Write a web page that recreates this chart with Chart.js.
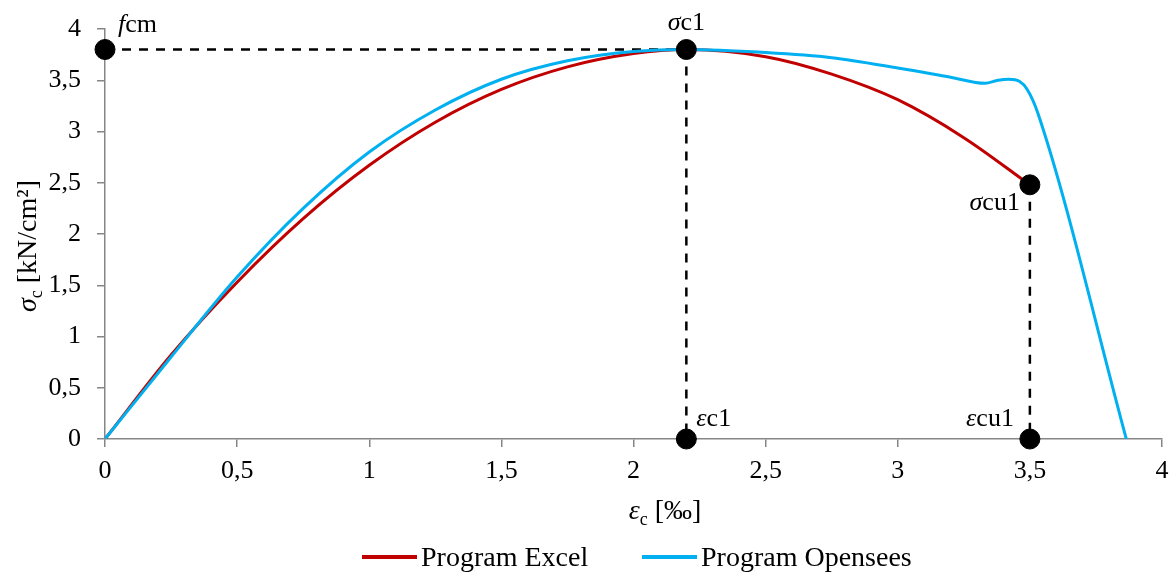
<!DOCTYPE html>
<html>
<head>
<meta charset="utf-8">
<script src="https://cdn.jsdelivr.net/npm/chart.js@4.4.1/dist/chart.umd.min.js"></script>
<style>
  html, body { margin: 0; padding: 0; background: #fff; }
  #wrap { width: 1173px; height: 573px; }
</style>
</head>
<body>
<div id="wrap"><canvas id="stressChart"></canvas></div>
<script>
// --- data ---
const strainExcel = [0, 0.25, 0.5, 0.75, 1, 1.25, 1.5, 1.75, 2, 2.2, 2.5, 2.75, 3, 3.25, 3.5];
const stressExcel = [0, 0.82, 1.53, 2.15, 2.67, 3.09, 3.41, 3.63, 3.76, 3.80, 3.73, 3.56, 3.31, 2.94, 2.48];

const strainOpensees = [0, 0.25, 0.5, 0.75, 1, 1.25, 1.5, 1.75, 2, 2.2, 2.5, 2.75, 3, 3.2, 3.33, 3.38, 3.42, 3.46, 3.49, 3.53, 3.865];
const stressOpensees = [0, 0.8, 1.58, 2.25, 2.80, 3.21, 3.51, 3.69, 3.78, 3.80, 3.77, 3.72, 3.62, 3.53, 3.47, 3.50, 3.51, 3.49, 3.41, 3.18, 0];

// characteristic points: fcm, sigma_c1, eps_c1, sigma_cu1, eps_cu1
const keyStrain = [0, 2.2, 2.2, 3.5, 3.5];
const keyStress = [3.8, 3.8, 0, 2.48, 0];

// dashed guides
const guideFcm = [[0, 3.8], [2.2, 3.8]];
const guideC1 = [[2.2, 3.8], [2.2, 0]];
const guideCu1 = [[3.5, 2.48], [3.5, 0]];

const seriesNames = ["Program Excel", "Program Opensees"];
const seriesColors = ["#C00000", "#00B0F0"];

const FONT = '"Liberation Serif", "Times New Roman", serif';
const FS = 26;      // ticks and point labels
const FS_BIG = 28;  // axis titles and legend

function pts(xs, ys) { return xs.map((x, i) => ({ x: x, y: ys[i] })); }
function pairs(arr) { return arr.map(p => ({ x: p[0], y: p[1] })); }

// draw text pieces (italic / subscript) in one run
function drawRich(ctx, parts, x, y, align, size) {
  const fontOf = p => (p.i ? "italic " : "") + (p.sub ? Math.round(size * 0.65) : size) + "px " + FONT;
  let w = 0;
  parts.forEach(p => { ctx.font = fontOf(p); w += ctx.measureText(p.t).width; });
  let cx = align === "center" ? x - w / 2 : align === "right" ? x - w : x;
  ctx.textAlign = "left";
  ctx.textBaseline = "alphabetic";
  parts.forEach(p => {
    ctx.font = fontOf(p);
    ctx.fillText(p.t, cx, y + (p.sub ? size * 0.22 : 0));
    cx += ctx.measureText(p.t).width;
  });
}

const extras = {
  id: "extras",
  afterDraw(chart) {
    const ctx = chart.ctx;
    const xs = chart.scales.x, ys = chart.scales.y;
    ctx.save();
    ctx.fillStyle = "#000";

    // point labels
    const px = i => xs.getPixelForValue(keyStrain[i]);
    const py = i => ys.getPixelForValue(keyStress[i]);
    drawRich(ctx, [{ t: "f", i: true }, { t: "cm" }], px(0) + 13, py(0) - 18, "left", FS);
    drawRich(ctx, [{ t: "σ", i: true }, { t: "c1" }], px(1), py(1) - 20, "center", FS);
    drawRich(ctx, [{ t: "ε", i: true }, { t: "c1" }], px(2) + 10, py(2) - 13, "left", FS);
    drawRich(ctx, [{ t: "σ", i: true }, { t: "cu1" }], px(3) - 10, py(3) + 25, "right", FS);
    drawRich(ctx, [{ t: "ε", i: true }, { t: "cu1" }], px(4) - 16, py(4) - 13, "right", FS);

    // axis titles
    drawRich(ctx, [{ t: "ε", i: true }, { t: "c", sub: true }, { t: " [‰]" }], 665, 519, "center", FS_BIG);
    ctx.save();
    ctx.translate(36, 246);
    ctx.rotate(-Math.PI / 2);
    drawRich(ctx, [{ t: "σ", i: true }, { t: "c", sub: true }, { t: " [kN/cm²]" }], 0, 0, "center", FS_BIG);
    ctx.restore();

    // legend
    const lx = [362, 642];
    seriesNames.forEach((name, i) => {
      ctx.strokeStyle = seriesColors[i];
      ctx.lineWidth = 4;
      ctx.beginPath();
      ctx.moveTo(lx[i], 557);
      ctx.lineTo(lx[i] + 55, 557);
      ctx.stroke();
      drawRich(ctx, [{ t: name }], lx[i] + 59, 566, "left", FS_BIG);
    });
    ctx.restore();
  }
};

const dashed = (data) => ({
  data: data,
  showLine: true,
  borderColor: "#000",
  borderWidth: 2.5,
  borderDash: [9, 8],
  pointRadius: 0,
  order: 3
});

new Chart(document.getElementById("stressChart"), {
  type: "scatter",
  data: {
    datasets: [
      {
        label: "points",
        data: pts(keyStrain, keyStress),
        pointRadius: 10,
        pointHoverRadius: 10,
        backgroundColor: "#000",
        borderColor: "#000",
        clip: false,
        order: 0
      },
      {
        label: seriesNames[0],
        data: pts(strainExcel, stressExcel),
        showLine: true,
        borderColor: seriesColors[0],
        borderWidth: 3,
        pointRadius: 0,
        cubicInterpolationMode: "monotone",
        order: 2
      },
      {
        label: seriesNames[1],
        data: pts(strainOpensees, stressOpensees),
        showLine: true,
        borderColor: seriesColors[1],
        borderWidth: 3,
        pointRadius: 0,
        cubicInterpolationMode: "monotone",
        order: 1
      },
      dashed(pairs(guideFcm)),
      dashed(pairs(guideC1)),
      dashed(pairs(guideCu1))
    ]
  },
  options: {
    responsive: true,
    maintainAspectRatio: false,
    animation: false,
    layout: { padding: { top: 29, right: 0, left: 0, bottom: 0 } },
    plugins: { legend: { display: false }, tooltip: { enabled: false } },
    scales: {
      x: {
        type: "linear",
        min: 0,
        max: 4,
        afterFit: s => { s.height = 134; s.paddingLeft = 0; s.paddingRight = 0; },
        ticks: {
          stepSize: 0.5,
          padding: 9,
          color: "#000",
          font: { family: FONT, size: FS },
          callback: v => String(v).replace(".", ",")
        },
        grid: { drawOnChartArea: false, drawTicks: true, tickLength: 8, color: "#868686", lineWidth: 1.5 },
        border: { color: "#868686", width: 1.5 }
      },
      y: {
        type: "linear",
        min: 0,
        max: 4,
        afterFit: s => { s.width = 105; s.paddingTop = 0; s.paddingBottom = 0; },
        ticks: {
          stepSize: 0.5,
          padding: 16,
          color: "#000",
          font: { family: FONT, size: FS },
          callback: v => String(v).replace(".", ",")
        },
        grid: { drawOnChartArea: false, drawTicks: true, tickLength: 8, color: "#868686", lineWidth: 1.5 },
        border: { color: "#868686", width: 1.5 }
      }
    }
  },
  plugins: [extras]
});
</script>
</body>
</html>
